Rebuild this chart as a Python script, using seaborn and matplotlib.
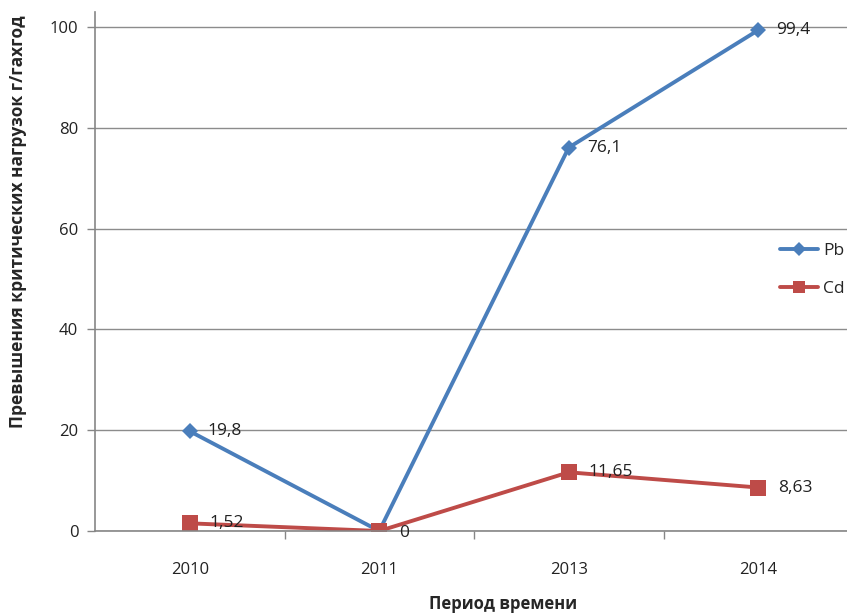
import matplotlib
matplotlib.use("Agg")
import matplotlib.pyplot as plt
import seaborn as sns
import pandas as pd
from matplotlib.lines import Line2D

years = ["2010", "2011", "2013", "2014"]
pb_values = [19.8, 0, 76.1, 99.4]
cd_values = [1.52, 0, 11.65, 8.63]
pb_labels = ["19,8", "", "76,1", "99,4"]
cd_labels = ["1,52", "0", "11,65", "8,63"]
series_names = ["Pb", "Cd"]
y_ticks = [0, 20, 40, 60, 80, 100]

BLUE = "#4A7EBB"
RED = "#BE4B48"

df = pd.DataFrame({
    "year": years * 2,
    "value": pb_values + cd_values,
    "series": [series_names[0]] * 4 + [series_names[1]] * 4,
})

sns.set_style("white")
plt.rcParams["font.family"] = ["Open Sans", "DejaVu Sans"]

fig = plt.figure(figsize=(8.47, 6.13), dpi=100)
ax = fig.add_axes([95 / 847, 82 / 613, 758 / 847, 519 / 613])

sns.lineplot(data=df, x="year", y="value", hue="series", style="series",
             markers={"Pb": "D", "Cd": "s"}, dashes=False,
             palette={"Pb": BLUE, "Cd": RED}, linewidth=2.8,
             markersize=9, markeredgewidth=0, ax=ax, legend=False, sort=False)
for line in ax.get_lines():
    if line.get_marker() == "s":
        line.set_markersize(11)
    else:
        line.set_markersize(8.5)

ax.set_xlim(-0.5, 3.5)
ax.set_ylim(0, 103)
ax.set_yticks(y_ticks)
ax.set_yticklabels([str(t) for t in y_ticks], fontsize=12, color="#222222")
ax.set_xticks(range(len(years)))
ax.set_xticklabels(years, fontsize=12, color="#222222")
ax.tick_params(axis="x", length=0, pad=22)
ax.tick_params(axis="y", length=6, width=1, color="#868686", direction="out", pad=6, left=True)
ax.set_xticks([0.5, 1.5, 2.5], minor=True)
ax.tick_params(axis="x", which="minor", length=6, width=1, color="#868686", direction="out", bottom=True)

ax.grid(axis="y", color="#8c8c8c", linewidth=1)
ax.set_axisbelow(True)
for s in ["top", "right"]:
    ax.spines[s].set_visible(False)
for s in ["left", "bottom"]:
    ax.spines[s].set_color("#868686")
    ax.spines[s].set_linewidth(1.2)

for i, (v, lab) in enumerate(zip(pb_values, pb_labels)):
    if lab:
        ax.annotate(lab, (i, v), xytext=(13, 0), textcoords="offset points",
                    va="center", ha="left", fontsize=12.5, color="#222222")
for i, (v, lab) in enumerate(zip(cd_values, cd_labels)):
    ax.annotate(lab, (i, v), xytext=(14, -1.5 if v == 0 else 0), textcoords="offset points",
                va="center", ha="left", fontsize=12.5, color="#222222")

ax.set_xlabel("Период времени", fontsize=12, fontweight="bold")
ax.set_ylabel("Превышения критических нагрузок г/гахгод", fontsize=12.5,
              fontweight="bold")
ax.xaxis.set_label_coords((503 - 95) / 758, -(604 - 531) / 519)
ax.xaxis.label.set_va("center")
ax.yaxis.set_label_coords(-(95 - 18) / 758, (531 - 222) / 519)
ax.yaxis.label.set_va("center")

handles = [
    Line2D([], [], color=BLUE, marker="D", markersize=7, linewidth=2.8, markeredgewidth=0),
    Line2D([], [], color=RED, marker="s", markersize=9, linewidth=2.8, markeredgewidth=0),
]
fig.legend(handles, series_names, loc="upper left", bbox_to_anchor=(780 / 847, 1 - 243 / 613),
           frameon=False, fontsize=12.5, handlelength=2.2, handletextpad=0.3,
           labelspacing=1.25, borderpad=0, borderaxespad=0)

fig.savefig("out.png", dpi=100)
